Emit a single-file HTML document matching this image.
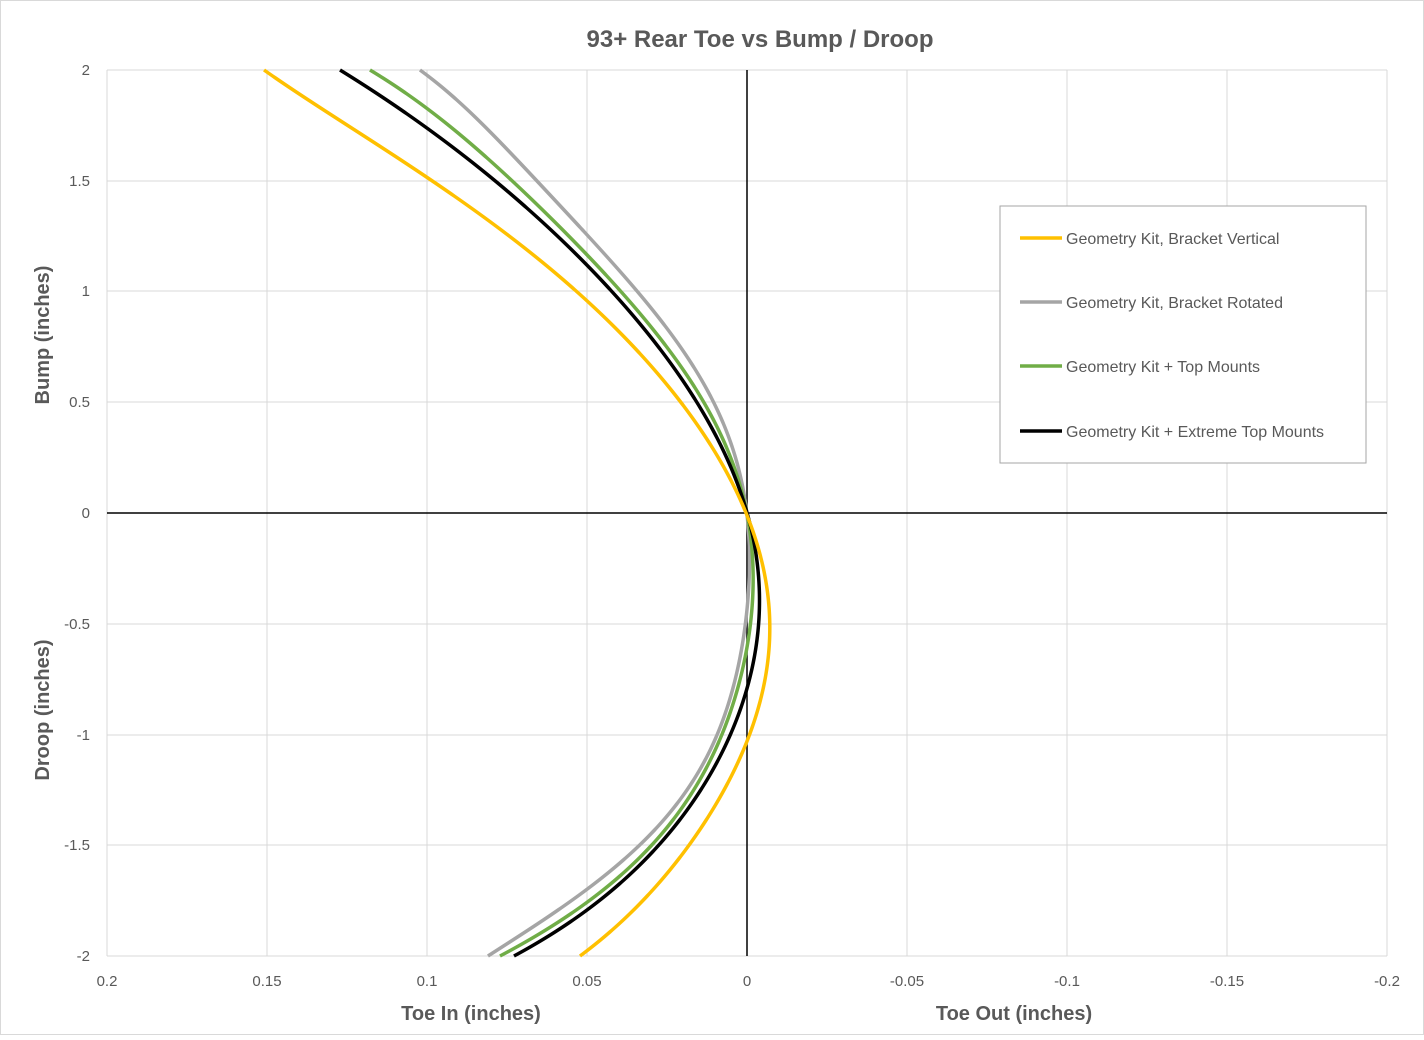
<!DOCTYPE html>
<html><head><meta charset="utf-8"><style>
body{margin:0;background:#fff}
svg text{font-family:"Liberation Sans",sans-serif}
</style></head><body>
<svg id="s" width="1424" height="1035" xmlns="http://www.w3.org/2000/svg">
<rect x="0.5" y="0.5" width="1423" height="1034" fill="#fff" stroke="#d9d9d9"/>
<text x="760" y="47" font-size="24" font-weight="bold" fill="#595959" text-anchor="middle">93+ Rear Toe vs Bump / Droop</text>
<g stroke="#d9d9d9" stroke-width="1">
<line x1="107" y1="70" x2="1387" y2="70"/><line x1="107" y1="181" x2="1387" y2="181"/><line x1="107" y1="291" x2="1387" y2="291"/><line x1="107" y1="402" x2="1387" y2="402"/><line x1="107" y1="624" x2="1387" y2="624"/><line x1="107" y1="735" x2="1387" y2="735"/><line x1="107" y1="845" x2="1387" y2="845"/><line x1="107" y1="956" x2="1387" y2="956"/>
<line x1="107" y1="70" x2="107" y2="956"/><line x1="267" y1="70" x2="267" y2="956"/><line x1="427" y1="70" x2="427" y2="956"/><line x1="587" y1="70" x2="587" y2="956"/><line x1="907" y1="70" x2="907" y2="956"/><line x1="1067" y1="70" x2="1067" y2="956"/><line x1="1227" y1="70" x2="1227" y2="956"/><line x1="1387" y1="70" x2="1387" y2="956"/>
</g>
<line x1="107" y1="513" x2="1387" y2="513" stroke="#000" stroke-width="1.5"/>
<line x1="747" y1="70" x2="747" y2="956" stroke="#000" stroke-width="1.5"/>
<g font-size="15" fill="#595959" text-anchor="end">
<text x="90" y="75">2</text><text x="90" y="186">1.5</text><text x="90" y="296">1</text><text x="90" y="407">0.5</text><text x="90" y="518">0</text><text x="90" y="629">-0.5</text><text x="90" y="740">-1</text><text x="90" y="850">-1.5</text><text x="90" y="961">-2</text>
</g>
<g font-size="15" fill="#595959" text-anchor="middle">
<text x="107" y="986">0.2</text><text x="267" y="986">0.15</text><text x="427" y="986">0.1</text><text x="587" y="986">0.05</text><text x="747" y="986">0</text><text x="907" y="986">-0.05</text><text x="1067" y="986">-0.1</text><text x="1227" y="986">-0.15</text><text x="1387" y="986">-0.2</text>
</g>
<g font-size="20" font-weight="bold" fill="#595959" text-anchor="middle">
<text x="471" y="1020">Toe In (inches)</text><text x="1014" y="1020">Toe Out (inches)</text>
<text transform="translate(49,335) rotate(-90)">Bump (inches)</text>
<text transform="translate(49,710) rotate(-90)">Droop (inches)</text>
</g>
<g id="curves" fill="none" stroke-width="3.5" stroke-linejoin="round"></g>
<rect x="1000" y="206" width="366" height="257" fill="#fff" stroke="#a6a6a6"/>
<g stroke-width="3.5">
<line x1="1020" y1="238" x2="1062" y2="238" stroke="#ffc000"/>
<line x1="1020" y1="302" x2="1062" y2="302" stroke="#a5a5a5"/>
<line x1="1020" y1="366" x2="1062" y2="366" stroke="#70ad47"/>
<line x1="1020" y1="431" x2="1062" y2="431" stroke="#000"/>
</g>
<g font-size="16" fill="#595959">
<text x="1066" y="244">Geometry Kit, Bracket Vertical</text>
<text x="1066" y="308">Geometry Kit, Bracket Rotated</text>
<text x="1066" y="372">Geometry Kit + Top Mounts</text>
<text x="1066" y="437">Geometry Kit + Extreme Top Mounts</text>
</g>
</svg>
<script>
var ys=[70,127,181,237,291,347,402,460,513,550,600,624,667,700,735,783,845,900,956];
var data=[
["#a5a5a5",[420,483,540,588,637,680,713,735,747,748,747,745,738,730,717,690,643,570,488]],
["#70ad47",[370,450,513,570,620,667,703,730,747,752,751,749,743,735,723,697,652,590,500]],
["#000",[340,427,493,560,610,660,697,727,747,757,759,758,753,745,730,703,660,600,514]],
["#ffc000",[264,353,430,508,578,637,680,717,746,760,768,770,768,762,750,723,692,643,580]]];
var D=7;
function fit(xs){
 var n=D+1,A=[],b=[];
 for(var i=0;i<n;i++){A.push(new Array(n).fill(0));b.push(0);}
 ys.forEach(function(y,k){
  var t=(513-y)/443,w=(k==0||k==ys.length-1||k==8)?20:1;
  for(var i=0;i<n;i++){for(var j=0;j<n;j++)A[i][j]+=w*Math.pow(t,i+j);b[i]+=w*Math.pow(t,i)*xs[k];}
 });
 for(var c=0;c<n;c++){
  var p=c;for(var r=c+1;r<n;r++)if(Math.abs(A[r][c])>Math.abs(A[p][c]))p=r;
  var tmp=A[c];A[c]=A[p];A[p]=tmp;tmp=b[c];b[c]=b[p];b[p]=tmp;
  for(var r=0;r<n;r++){if(r==c)continue;var f=A[r][c]/A[c][c];
   for(var j=c;j<n;j++)A[r][j]-=f*A[c][j];b[r]-=f*b[c];}
 }
 return b.map(function(v,i){return v/A[i][i];});
}
var g=document.getElementById('curves');
data.forEach(function(d){
 var co=fit(d[1]),s="";
 for(var y=70;y<=956;y+=2){
  var t=(513-y)/443,x=0;
  for(var i=co.length-1;i>=0;i--)x=x*t+co[i];
  s+=(y==70?"M":"L")+x.toFixed(2)+","+y+" ";
 }
 var e=document.createElementNS("http://www.w3.org/2000/svg","path");
 e.setAttribute("d",s);e.setAttribute("stroke",d[0]);g.appendChild(e);
});
</script>
</body></html>
